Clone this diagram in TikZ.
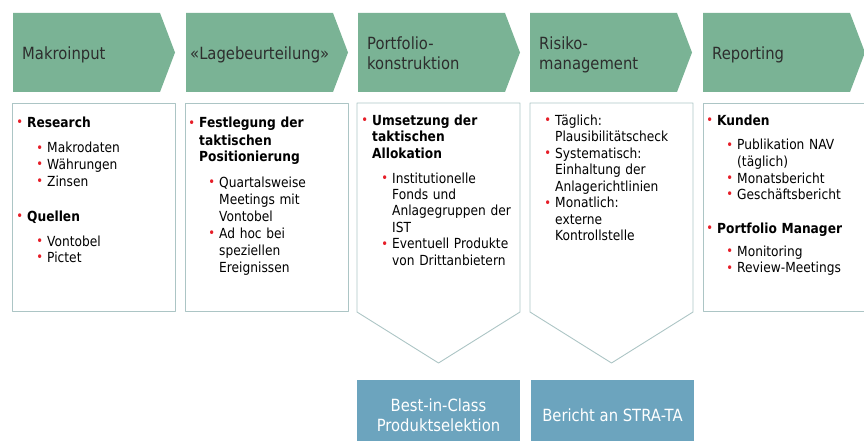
\documentclass[tikz,border=0pt]{standalone}
\usepackage{fontspec}
\setmainfont[FakeStretch=0.88]{DejaVu Sans}
\definecolor{chevgreen}{RGB}{122,179,149}
\definecolor{selblue}{RGB}{108,164,190}
\definecolor{panelgray}{RGB}{172,197,197}
\definecolor{hdrgray}{RGB}{45,45,45}
\definecolor{bulred}{RGB}{230,30,40}
\newcommand\bulmark{\textcolor{bulred}{\raisebox{0.8pt}{\fontsize{13}{13}\selectfont\textbullet}}}
\newcommand\mainpt[2][15pt]{\par\leftskip=#1\noindent\llap{\bulmark\hspace{4pt}}#2\par}
\newcommand\subpt[2][35pt]{\par\leftskip=#1\noindent\llap{\bulmark\hspace{4pt}}#2\par}

\begin{document}
\begin{tikzpicture}[x=1pt,y=-1pt,
	chev/.style={fill=chevgreen},
	hdr/.style={anchor=base west,inner sep=0pt,text width=165pt,text=hdrgray,font=\fontsize{16.8}{20}\selectfont},
	panel/.style={draw=panelgray,line width=0.9pt,line join=round},
	body/.style={anchor=base west,inner sep=0pt,text width=200pt,font=\fontsize{13.9}{16.5}\selectfont},
	selbox/.style={fill=selblue,text=white,minimum width=163pt,minimum height=70pt,align=center,inner sep=0pt,font=\fontsize{16.8}{20}\selectfont}]
\useasboundingbox (0,0) rectangle (864,441);
% chevrons with the steps
\foreach \x in {13,186,358,530,703}
	\fill[chev] (\x,13) -- ++(147,0) -- ++(15,39.5) -- ++(-15,39.5) -- ++(-147,0) -- cycle;
\foreach \tx/\ty/\txt [count=\i] in {22/59.3/Makroinput,190/59.3/{«Lagebeurteilung»},367/49.3/{Portfolio-\\konstruktion},539/49.3/{Risiko-\\management},712/59.3/Reporting}
	\node[hdr] (h\i) at (\tx,\ty) {\txt};
% panels below
\foreach \x in {12,185,703}
	\draw[panel] (\x,103) rectangle ++(163,208);
\foreach \x in {357,530}
	\draw[panel] (\x,103) -- ++(163,0) -- ++(0,209) -- ++(-81.5,51) -- ++(-81.5,-51) -- cycle;
% panel texts
\node[body] (b1) at (12,111) {%
	\mainpt{\textbf{Research}}\vspace{9pt}
	\subpt{Makrodaten}\subpt{Währungen}\subpt{Zinsen}\vspace{18.5pt}
	\mainpt{\textbf{Quellen}}\vspace{8.5pt}
	\subpt{Vontobel}\subpt{Pictet}};
\node[body,font=\fontsize{13.9}{17}\selectfont] (b2) at (185,111) {%
	\mainpt[14pt]{\textbf{Festlegung der\\taktischen\\Positionierung}}\vspace{8.5pt}
	\subpt[34pt]{Quartalsweise\\Meetings mit\\Vontobel}
	\subpt[34pt]{Ad hoc bei\\speziellen\\Ereignissen}};
\node[body] (b3) at (357,109) {%
	\mainpt{\textbf{Umsetzung der\\taktischen\\Allokation}}\vspace{8pt}
	\subpt{Institutionelle\\Fonds und\\Anlagegruppen der\\IST}
	\subpt{Eventuell Produkte\\von Drittanbietern}};
\node[body] (b4) at (530,109) {%
	\mainpt[25pt]{Täglich:\\Plausibilitätscheck}
	\mainpt[25pt]{Systematisch:\\Einhaltung der\\Anlagerichtlinien}
	\mainpt[25pt]{Monatlich:\\externe\\Kontrollstelle}};
\node[body] (b5) at (703,109) {%
	\mainpt[14pt]{\textbf{Kunden}}\vspace{8pt}
	\subpt[34pt]{Publikation NAV\\(täglich)}\subpt[34pt]{Monatsbericht}\subpt[34pt]{Geschäftsbericht}\vspace{17pt}
	\mainpt[14pt]{\textbf{Portfolio Manager}}\vspace{7pt}
	\subpt[34pt]{Monitoring}\subpt[34pt]{Review-Meetings}};
% results
\node[selbox] (bic) at (438.5,415) {Best-in-Class\\Produktselektion};
\node[selbox] (stra) at (612.5,415) {Bericht an STRA-TA};
\end{tikzpicture}
\end{document}
